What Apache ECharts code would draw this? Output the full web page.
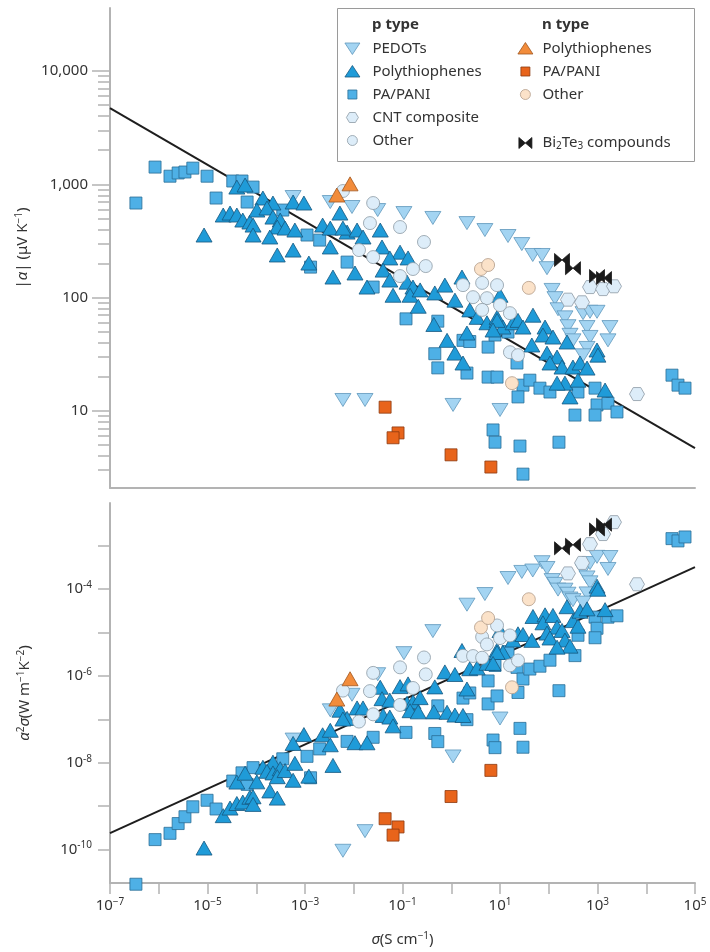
<!DOCTYPE html>
<html><head><meta charset="utf-8">
<script src="https://cdn.jsdelivr.net/npm/echarts@6/dist/echarts.min.js"></script>
<style>html,body{margin:0;padding:0;background:#fff}#c{width:710px;height:952px}</style>
</head><body><div id="c"></div>
<script>
// Each point: [conductivity sigma (S cm^-1), |Seebeck| alpha (uV K^-1)]
const pPEDOTs = [[5.7e-4,773],[3.3e-3,698],[9.2e-3,631],[3.1e-2,593],[0.107,558],[0.42,505],[2.1,455],[4.9,395],[14.6,350],[28,297],[47,238],[73,238],[92,182],[117,117],[134,99],[155,79],[215,67],[248,56],[273,47],[314,42],[505,73],[702,75],[977,75],[610,55],[702,45],[1800,55],[1640,42],[610,36],[505,31],[10,10.2],[1.7e-2,12.5],[1.09,11.3],[6.0e-3,12.5]];
const pPolythiophenes = [[4.0e-5,946],[5.9e-5,986],[1.37e-4,757],[2.2e-4,684],[5.7e-4,698],[9.5e-4,684],[2.1e-5,536],[2.9e-5,558],[4.0e-5,536],[5.3e-5,484],[7.4e-5,465],[8.6e-5,437],[1.03e-4,593],[1.66e-4,618],[2.2e-4,514],[3.1e-4,484],[2.7e-4,420],[3.9e-4,411],[6.2e-4,395],[8.5e-6,357],[8.6e-5,357],[1.9e-4,343],[2.7e-4,238],[5.7e-4,263],[1.2e-3,202],[2.3e-3,437],[3.3e-3,411],[5.2e-3,558],[3.3e-3,280],[3.75e-3,152],[7.3e-3,379],[6.0e-3,411],[1.17e-2,395],[1.55e-2,343],[3.5e-2,395],[3.8e-2,280],[8.9e-2,252],[5.5e-2,224],[0.13,224],[1.06e-2,165],[1.87e-2,124],[4.0e-2,175],[5.5e-2,143],[6.4e-2,105],[0.124,137],[0.164,124],[0.143,105],[0.23,117],[0.21,84],[0.46,110],[0.74,129],[1.66,152],[1.19,95],[2.4,78],[3.4,67],[5.4,60],[8.7,67],[11.5,55],[18.5,60],[0.44,58],[0.82,42],[2.1,48.7],[1.19,32.4],[1.74,26.5],[10,105],[47.5,70],[23.4,63],[29.6,55],[84,55],[76,46.8],[122,44.9],[45,38.2],[92,32.4],[148,29.9],[237,40.6],[187,24.4],[314,24.4],[438,26.5],[610,23.9],[977,34.5],[1020,31.1],[215,17.6],[398,18.7],[273,13.3],[1430,15.3],[106,26.5],[148,17.6],[8.7,63],[7.2,51.8]];
const pPAPANI = [[3.4e-7,684],[8.4e-7,1420],[1.7e-6,1180],[2.5e-6,1260],[3.45e-6,1285],[5.0e-6,1390],[9.8e-6,1180],[1.5e-5,757],[3.3e-5,1070],[5.1e-5,1070],[8.6e-5,946],[6.5e-5,698],[3.5e-4,593],[1.1e-3,357],[2.0e-3,322],[7.3e-3,206],[1.3e-3,186],[2.5e-2,124],[0.118,65],[0.53,62],[0.46,32],[0.53,24],[1.74,42],[2.4,41],[2.1,21.6],[5.7,36.6],[7.9,46.8],[5.7,19.9],[8.7,19.9],[14.6,49.7],[22.3,26.5],[29.6,16.9],[41,18.7],[66,15.9],[106,14.7],[23.4,13.3],[398,14.7],[890,15.9],[345,9.2],[977,11.3],[1640,11.7],[2510,9.8],[890,9.2],[33700,20.7],[44800,16.9],[62400,15.9],[7.2,6.8],[7.9,5.3],[25.7,4.9],[162,5.3],[29.6,2.77]];
const pCNT = [[481,91],[702,124],[1300,119],[2180,126],[6460,14.1],[248,96]];
const pOther = [[6.0e-3,873],[2.5e-2,684],[2.15e-2,455],[8.9e-2,420],[0.276,310],[1.28e-2,263],[2.5e-2,228],[0.30,190],[0.164,179],[8.9e-2,155],[1.74,129],[4.3,135],[8.7,129],[2.8,101],[5.4,99],[10,86],[4.3,78],[16,73],[16,33],[23.4,31.1]];
const nPolythiophenes = [[8.4e-3,1010],[4.5e-3,805]];
const nPAPANI = [[4.4e-2,10.8],[8.1e-2,6.4],[6.4e-2,5.8],[0.99,4.1],[6.5,3.2]];
const nOther = [[4.07,179],[5.7,194],[17.6,17.6],[39,122]];
const bi2te3 = [[187,215],[314,182],[977,155],[1360,149]];

// fitted trend lines
const fitAlpha = [[1e-7,4700],[1e5,4.7]];
const fitPF = [[1e-7,2.4e-10],[1e5,3.2e-4]];

// ticks
const sigmaTickValues = [1e-7,1e-6,1e-5,1e-4,1e-3,1e-2,1e-1,1,1e1,1e2,1e3,1e4,1e5];
const sigmaLabelValues = [1e-7,1e-5,1e-3,1e-1,1e1,1e3,1e5];
const alphaTickValues = [10,100,1000,10000];
const alphaTickLabels = ['10','100','1,000','10,000'];
const alphaMinorTicks = [3,4,5,6,7,8,9,20,30,40,50,60,70,80,90,200,300,400,500,600,700,800,900,2000,3000,4000,5000,6000,7000,8000,9000];
const pfTickValues = [1e-10,1e-9,1e-8,1e-7,1e-6,1e-5,1e-4,1e-3];
const pfLabelValues = [1e-10,1e-8,1e-6,1e-4];

const L = Math.log10;
const toTop = pts => pts.map(p => [L(p[0]), L(p[1])]);
// power factor alpha^2 sigma in W m^-1 K^-2 (alpha in V/K, sigma in S/m)
const toBottom = pts => pts.map(p => [L(p[0]), L(Math.pow(p[1]*1e-6,2)*p[0]*100)]);

const FONT = 'Noto Sans';
const TXT = '#333';
const AX = '#b3b3b3';
const HEX = 'path://M0,6.5L3.75,0L11.25,0L15,6.5L11.25,13L3.75,13Z';
const BOW = 'path://M0,0L7.5,6.5L0,13Z M15,0L7.5,6.5L15,13Z';

const groups = [
  {name:'p PEDOTs', data:pPEDOTs, symbol:'triangle', size:[16,13], rotate:180, color:'#a3d4f2', border:'#5f97bb',
   icon:'path://M0,0M16,14M0.5,1.5L15.5,1.5L8,13Z'},
  {name:'p PA/PANI', data:pPAPANI, symbol:'rect', size:12, color:'#4eb0e6', border:'#2a6d95',
   icon:'path://M0,0M16,14M3.5,2.5L12.5,2.5L12.5,11.5L3.5,11.5Z'},
  {name:'p Polythiophenes', data:pPolythiophenes, symbol:'triangle', size:[16,14], color:'#1f9bd8', border:'#17587f',
   icon:'path://M0,0M16,14M8,1L15.5,12.5L0.5,12.5Z'},
  {name:'p CNT composite', data:pCNT, symbol:HEX, size:[15,13], color:'#ddedf9', border:'#8d9aa5',
   icon:'path://M0,0M16,14M2,7L5,2L11,2L14,7L11,12L5,12Z'},
  {name:'p Other', data:pOther, symbol:'circle', size:13, color:'#ddedf9', border:'#8d9aa5',
   icon:'path://M0,0M16,14M3,7A5,5,0,1,1,13,7A5,5,0,1,1,3,7Z'},
  {name:'n Polythiophenes', data:nPolythiophenes, symbol:'triangle', size:[16,14], color:'#f28c3b', border:'#a0561f',
   icon:'path://M0,0M16,14M8,1L15.5,12.5L0.5,12.5Z'},
  {name:'n PA/PANI', data:nPAPANI, symbol:'rect', size:12, color:'#e8641b', border:'#8b3a10',
   icon:'path://M0,0M16,14M3.5,2.5L12.5,2.5L12.5,11.5L3.5,11.5Z'},
  {name:'n Other', data:nOther, symbol:'circle', size:13, color:'#fbe2c9', border:'#b39c89',
   icon:'path://M0,0M16,14M3,7A5,5,0,1,1,13,7A5,5,0,1,1,3,7Z'},
  {name:'x Bi2Te3', data:bi2te3, symbol:BOW, size:[15,13], color:'#1b1b1b', border:'#1b1b1b',
   icon:'path://M0,0M16,14M1.5,1.5L8,7L1.5,12.5Z M14.5,1.5L8,7L14.5,12.5Z'}
];
const pOrder = ['p PEDOTs','p Polythiophenes','p PA/PANI','p CNT composite','p Other'];

const series = [];
[0,1].forEach(gi => {
  series.push({
    type:'line', xAxisIndex:gi, yAxisIndex: gi===0?0:2, silent:true, symbol:'none', animation:false,
    data: (gi===0 ? fitAlpha : fitPF).map(p => [L(p[0]), L(p[1])]),
    lineStyle:{color:'#1e1e1e', width:2}, z:1
  });
  groups.forEach(g => {
    series.push({
      type:'scatter', name:g.name, xAxisIndex:gi, yAxisIndex: gi===0?0:2, clip:false, silent:true,
      data: gi===0 ? toTop(g.data) : toBottom(g.data),
      symbol:g.symbol, symbolSize:g.size, symbolRotate:g.rotate||0,
      itemStyle:{color:g.color, borderColor:g.border, borderWidth:0.8, opacity:1},
      z:2
    });
  });
});

const supRich = {
  b:{fontSize:15, color:TXT, fontFamily:FONT, lineHeight:18},
  s:{fontSize:10, color:TXT, fontFamily:FONT, verticalAlign:'top', lineHeight:10}
};
const nameRich = {
  i:{fontSize:15, color:TXT, fontFamily:FONT, fontStyle:'italic', lineHeight:18},
  s:{fontSize:10, color:TXT, fontFamily:FONT, verticalAlign:'top', lineHeight:10}
};
const near = (a,b) => Math.abs(a-b) < 1e-6;
const legendBase = {orient:'vertical', padding:0, itemWidth:16, itemHeight:14, itemGap:8,
  selectedMode:false, symbolRotate:0, itemStyle:{borderWidth:0.8}};

const option = {
  animation:false,
  textStyle:{fontFamily:FONT, color:TXT},
  grid:[
    {left:110, top:8, width:585, height:480, outerBoundsMode:'none'},
    {left:110, top:503, width:585, height:380, outerBoundsMode:'none'}
  ],
  xAxis:[
    {gridIndex:0, type:'value', min:-7, max:5, position:'bottom',
     axisLine:{show:true, onZero:false, lineStyle:{color:AX, width:2}},
     axisTick:{show:false}, axisLabel:{show:false}, splitLine:{show:false}},
    {gridIndex:1, type:'value', min:-7, max:5, interval:1, position:'bottom',
     axisLine:{show:true, onZero:false, lineStyle:{color:AX, width:2}},
     axisTick:{show:true, length:11, lineStyle:{color:AX, width:1.5}, customValues:sigmaTickValues.map(L)},
     axisLabel:{customValues:sigmaLabelValues.map(L), margin:14,
       formatter: v => { const e = Math.round(v); return '{b|10}{s|' + (e<0?'−':'') + Math.abs(e) + '}'; },
       rich:supRich},
     splitLine:{show:false},
     name:'{i|σ}(S cm{s|−1})', nameLocation:'middle', nameGap:48,
     nameTextStyle:{fontSize:15, color:TXT, fontFamily:FONT, rich:nameRich}}
  ],
  yAxis:[
    {gridIndex:0, type:'value', min:L(2.09), max:L(36000), position:'left',
     axisLine:{show:true, onZero:false, lineStyle:{color:AX, width:2}},
     axisTick:{show:true, length:18, lineStyle:{color:AX, width:1.5}, customValues:alphaTickValues.map(L)},
     axisLabel:{customValues:alphaTickValues.map(L), margin:22, fontSize:15, color:TXT,
       formatter: v => { const i = alphaTickValues.findIndex(t => near(L(t), v)); return i>=0 ? alphaTickLabels[i] : ''; }},
     splitLine:{show:false},
     name:'|{i|α}| (μV K{s|−1})', nameLocation:'middle', nameRotate:90, nameGap:70,
     nameTextStyle:{fontSize:15, color:TXT, fontFamily:FONT, rich:nameRich}},
    {gridIndex:0, type:'value', min:L(2.09), max:L(36000), position:'left', offset:0,
     axisLine:{show:false, onZero:false},
     axisTick:{show:true, length:12, lineStyle:{color:AX, width:1.5}, customValues:alphaMinorTicks.map(L)},
     axisLabel:{show:false}, splitLine:{show:false}},
    {gridIndex:1, type:'value', min:-10.77, max:-2.02, position:'left',
     axisLine:{show:true, onZero:false, lineStyle:{color:AX, width:2}},
     axisTick:{show:true, length:12, lineStyle:{color:AX, width:1.5}, customValues:pfTickValues.map(L)},
     axisLabel:{customValues:pfLabelValues.map(L), margin:18,
       formatter: v => '{b|10}{s|' + Math.round(v) + '}', rich:supRich},
     splitLine:{show:false},
     name:'{i|α}{s|2}{i|σ}(W m{s|−1}K{s|−2})', nameLocation:'middle', nameRotate:90, nameGap:76,
     nameTextStyle:{fontSize:15, color:TXT, fontFamily:FONT, rich:nameRich}}
  ],
  legend:[
    Object.assign({}, legendBase, {left:344, top:41,
     data: groups.filter(g => g.name[0]==='p').sort((a,b)=>pOrder.indexOf(a.name)-pOrder.indexOf(b.name)).map(g => ({name:g.name, icon:g.icon})),
     formatter: n => n.slice(2),
     textStyle:{fontSize:15, color:TXT, fontFamily:FONT, padding:[0,0,0,7]}}),
    Object.assign({}, legendBase, {left:517, top:41,
     data: groups.filter(g => g.name[0]==='n').map(g => ({name:g.name, icon:g.icon})),
     formatter: n => n.slice(2),
     textStyle:{fontSize:15, color:TXT, fontFamily:FONT, padding:[0,0,0,4]}}),
    Object.assign({}, legendBase, {left:517, top:135,
     data: groups.filter(g => g.name[0]==='x').map(g => ({name:g.name, icon:g.icon})),
     formatter: () => 'Bi{sub|2}Te{sub|3} compounds',
     textStyle:{fontSize:15, color:TXT, fontFamily:FONT, padding:[0,0,0,4], lineHeight:16,
       rich:{sub:{fontSize:10, color:TXT, fontFamily:FONT, verticalAlign:'bottom', lineHeight:10}}}})
  ],
  graphic:[
    {type:'rect', z:10, silent:true, shape:{x:337.5, y:8.5, width:357, height:153},
     style:{fill:'none', stroke:'#9a9a9a', lineWidth:1}},
    {type:'text', z:10, silent:true, x:372, y:25,
     style:{text:'p type', fontSize:15, fontWeight:'bold', fontFamily:FONT, fill:TXT, verticalAlign:'middle'}},
    {type:'text', z:10, silent:true, x:542, y:25,
     style:{text:'n type', fontSize:15, fontWeight:'bold', fontFamily:FONT, fill:TXT, verticalAlign:'middle'}}
  ],
  series: series
};

const chart = echarts.init(document.getElementById('c'), null, {renderer:'canvas'});
chart.setOption(option);
</script>
</body></html>
